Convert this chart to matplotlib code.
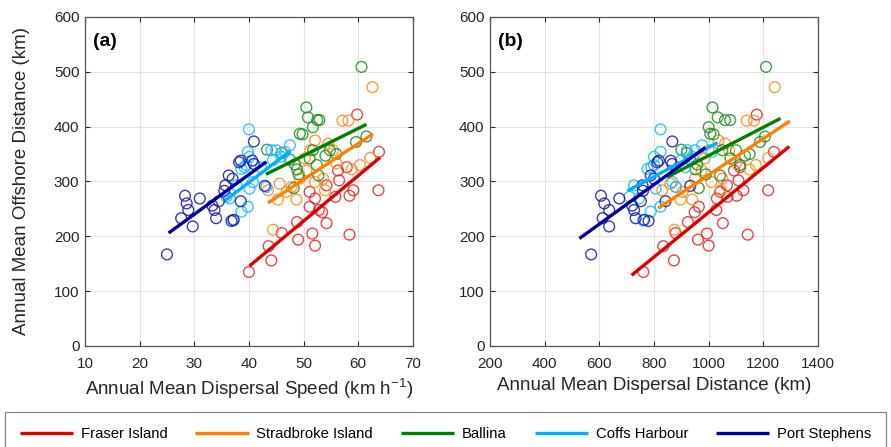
import matplotlib
matplotlib.use("Agg")
import matplotlib.pyplot as plt
import numpy as np

plt.rcParams['font.family'] = ['Liberation Sans', 'DejaVu Sans']
plt.rcParams['mathtext.fontset'] = 'custom'
plt.rcParams['mathtext.rm'] = 'Liberation Sans'

sites = ["Fraser Island", "Stradbroke Island", "Ballina", "Coffs Harbour", "Port Stephens"]
line_colors = ["#dd0000", "#ff8000", "#008000", "#00b0ff", "#0000a0"]
marker_colors = ["#e02828", "#ff8c1a", "#1f8f1f", "#1ab8ff", "#1a1aa8"]

# annual mean dispersal speed (km/h), offshore distance (km), dispersal distance (km)
fraser_speed = [40.0, 44.1, 43.6, 52.1, 49.0, 58.4, 51.6, 46.0, 54.2, 48.8, 53.4, 52.8, 51.1,
                52.1, 55.8, 58.4, 51.1, 63.7, 59.1, 54.2, 56.5, 56.3, 57.9, 63.8, 59.8]
fraser_offshore = [135, 156, 182, 183, 194, 203, 205, 206, 224, 226, 244, 248, 254,
                   269, 272, 274, 281, 284, 284, 293, 302, 320, 326, 354, 422]
fraser_dist = [761, 873, 834, 1000, 961, 1143, 994, 879, 1052, 924, 949, 1028, 964,
               1030, 1069, 1103, 1042, 1218, 1127, 1067, 1109, 1093, 1115, 1239, 1176]

strad_speed = [62.6, 57.1, 58.2, 44.4, 45.3, 43.5, 46.9, 47.8, 48.7, 49.3, 50.5, 52.1,
               54.5, 50.2, 52.1, 53.9, 53.6, 56.0, 58.8, 60.3, 62.2, 55.4, 51.2, 45.6]
strad_offshore = [472, 411, 411, 212, 267, 284, 281, 290, 267, 305, 320, 375,
                  369, 342, 299, 284, 305, 333, 322, 330, 343, 357, 357, 296]
strad_dist = [1242, 1139, 1166, 875, 897, 830, 905, 880, 940, 950, 975, 1036,
              1060, 985, 1010, 1045, 1050, 1100, 1150, 1173, 1218, 1075, 1000, 860]

ballina_speed = [60.6, 50.5, 50.8, 52.5, 52.9, 51.7, 49.3, 49.8, 59.6, 61.5, 54.8, 54.0,
                 43.3, 46.0, 47.5, 48.4, 48.8, 49.1, 51.7, 51.1, 52.4, 52.7, 48.2, 56.0]
ballina_offshore = [509, 435, 417, 412, 412, 399, 387, 386, 372, 382, 357, 347,
                    358, 352, 340, 331, 322, 313, 357, 342, 330, 311, 288, 350]
ballina_dist = [1210, 1014, 1033, 1079, 1060, 1000, 1006, 1018, 1188, 1206, 1100, 1133,
                900, 920, 933, 958, 952, 990, 1050, 1080, 1115, 1042, 964, 1150]

coffs_speed = [40.0, 39.8, 40.1, 38.6, 39.2, 40.7, 40.1, 36.5, 39.8, 38.6, 37.1,
               44.1, 45.0, 47.5, 45.9, 43.2, 42.2, 37.7, 35.9, 39.5, 46.6, 44.4]
coffs_offshore = [395, 354, 345, 323, 326, 299, 287, 269, 254, 245, 229,
                  357, 357, 366, 345, 290, 326, 293, 272, 330, 354, 339]
coffs_dist = [824, 824, 800, 776, 790, 867, 806, 745, 824, 788, 760,
              921, 950, 976, 940, 880, 915, 727, 710, 800, 1012, 900]

port_speed = [25.0, 28.3, 28.6, 28.9, 27.6, 29.7, 31.0, 33.7, 34.0, 34.5, 35.7, 36.3,
              37.2, 38.2, 38.5, 40.6, 40.9, 38.5, 40.9, 42.9, 35.5, 37.0, 36.8, 33.3]
port_offshore = [167, 274, 260, 248, 233, 218, 269, 248, 233, 264, 293, 311,
                 230, 335, 338, 338, 332, 264, 373, 292, 283, 305, 228, 256]
port_dist = [570, 606, 618, 636, 612, 636, 673, 727, 733, 752, 758, 788,
             764, 812, 818, 861, 867, 842, 867, 933, 760, 800, 780, 720]

speeds = [fraser_speed, strad_speed, ballina_speed, coffs_speed, port_speed]
offshores = [fraser_offshore, strad_offshore, ballina_offshore, coffs_offshore, port_offshore]
dists = [fraser_dist, strad_dist, ballina_dist, coffs_dist, port_dist]

# linear fits: slope, intercept, x range
fit_a_slope = [8.28, 6.56, 4.95, 7.58, 7.26]
fit_a_icpt = [-186.1, -24.4, 99.7, -4.9, 22.3]
fit_a_xmin = [40.1, 43.5, 43.1, 35.6, 25.3]
fit_a_xmax = [64.0, 62.7, 61.5, 47.6, 43.2]

fit_b_slope = [0.407, 0.330, 0.258, 0.267, 0.360]
fit_b_icpt = [-163.3, -17.9, 89.2, 95.3, 6.3]
fit_b_xmin = [718, 815, 848, 703, 527]
fit_b_xmax = [1295, 1297, 1263, 1033, 988]

fig = plt.figure(figsize=(8.91, 4.47), dpi=100)
ax_a = fig.add_axes([0.0954, 0.226, 0.368, 0.736])
ax_b = fig.add_axes([0.550, 0.226, 0.368, 0.736])


def style_axes(ax):
    ax.grid(True, color="#e3e3e3", linewidth=0.8)
    ax.set_axisbelow(True)
    ax.tick_params(direction="in", top=True, right=True, length=3.5, width=0.8,
                   labelsize=11, colors="#262626")
    ax.tick_params(axis="x", pad=8)
    ax.tick_params(axis="y", pad=4)
    for sp in ax.spines.values():
        sp.set_color("#555555")
        sp.set_linewidth(0.9)


handles = []
for i in range(5):
    ax_a.scatter(speeds[i], offshores[i], s=60, facecolors="none",
                 edgecolors=marker_colors[i], linewidths=1.0, alpha=0.85, zorder=2)
    ax_b.scatter(dists[i], offshores[i], s=60, facecolors="none",
                 edgecolors=marker_colors[i], linewidths=1.0, alpha=0.85, zorder=2)

for i in range(5):
    xa = np.array([fit_a_xmin[i], fit_a_xmax[i]])
    h, = ax_a.plot(xa, fit_a_slope[i] * xa + fit_a_icpt[i], color=line_colors[i],
                   linewidth=2.4, solid_capstyle="butt", zorder=3, label=sites[i])
    handles.append(h)
    xb = np.array([fit_b_xmin[i], fit_b_xmax[i]])
    ax_b.plot(xb, fit_b_slope[i] * xb + fit_b_icpt[i], color=line_colors[i],
              linewidth=2.4, solid_capstyle="butt", zorder=3)

ax_a.set_xlim(10, 70)
ax_a.set_xticks(np.arange(10, 71, 10))
ax_b.set_xlim(200, 1400)
ax_b.set_xticks(np.arange(200, 1401, 200))
for ax in (ax_a, ax_b):
    ax.set_ylim(0, 600)
    ax.set_yticks(np.arange(0, 601, 100))
    style_axes(ax)

ax_a.set_xlabel("Annual Mean Dispersal Speed (km h$^{-1}$)", fontsize=13.5, color="#262626")
ax_b.set_xlabel("Annual Mean Dispersal Distance (km)", fontsize=13.5, color="#262626")
ax_a.set_ylabel("Annual Mean Offshore Distance (km)", fontsize=13.5, color="#262626",
                labelpad=17)

ax_a.text(0.025, 0.925, "(a)", transform=ax_a.transAxes, fontsize=14,
          fontweight="bold", va="center")
ax_b.text(0.025, 0.925, "(b)", transform=ax_b.transAxes, fontsize=14,
          fontweight="bold", va="center")

leg = fig.legend(handles=handles, loc="upper left", ncol=5, mode="expand",
                 bbox_to_anchor=(5 / 891, 35 / 447, 881 / 891, 0), borderaxespad=0,
                 fontsize=10.7, handlelength=3.6, handletextpad=0.5, borderpad=1.0,
                 fancybox=False, edgecolor="#888888", framealpha=1)
leg.get_frame().set_linewidth(0.9)

fig.savefig("out.png", dpi=100)
